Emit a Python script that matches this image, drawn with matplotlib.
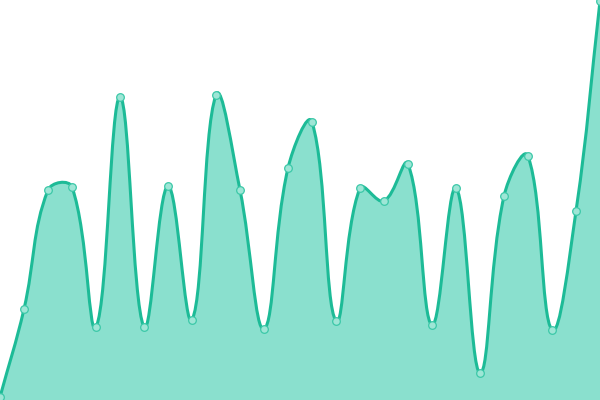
import matplotlib

matplotlib.use("Agg")
import matplotlib.pyplot as plt
from matplotlib.patches import PathPatch
from matplotlib.path import Path

LINE_COLOR = "#1dbb97"
FILL_COLOR = "#8ae0ce"
POINT_FILL = "#9ee6d6"
TENSION = 0.4

x_values = [0, 24, 48, 72, 96, 120, 144, 168, 192, 216, 240, 264, 288,
            312, 336, 360, 384, 408, 432, 456, 480, 504, 528, 552, 576, 600]
y_values = [3, 91, 210, 213, 73, 303, 73, 214, 80, 305, 210, 71, 232,
            278, 79, 212, 199, 236, 75, 212, 27, 204, 244, 70, 189, 399]

X_MIN, X_MAX = 0, 600
Y_MIN, Y_MAX = 0, 400


def control_points(xs, ys, tension):
    """Chart.js style spline control points, clamped to the chart area."""
    n = len(xs)
    cps = []
    for i in range(n):
        px, py = (xs[i - 1], ys[i - 1]) if i > 0 else (xs[i], ys[i])
        nx, ny = (xs[i + 1], ys[i + 1]) if i < n - 1 else (xs[i], ys[i])
        cx, cy = xs[i], ys[i]
        d01 = ((cx - px) ** 2 + (cy - py) ** 2) ** 0.5
        d12 = ((nx - cx) ** 2 + (ny - cy) ** 2) ** 0.5
        total = d01 + d12
        s01 = d01 / total if total else 0
        s12 = d12 / total if total else 0
        fa = tension * s01
        fb = tension * s12
        prev_cp = (cx - fa * (nx - px), cy - fa * (ny - py))
        next_cp = (cx + fb * (nx - px), cy + fb * (ny - py))
        clamp = lambda p: (min(max(p[0], X_MIN), X_MAX), min(max(p[1], Y_MIN), Y_MAX))
        cps.append((clamp(prev_cp), clamp(next_cp)))
    return cps


def spline_vertices(xs, ys, tension):
    cps = control_points(xs, ys, tension)
    verts = [(xs[0], ys[0])]
    codes = [Path.MOVETO]
    for i in range(1, len(xs)):
        verts += [cps[i - 1][1], cps[i][0], (xs[i], ys[i])]
        codes += [Path.CURVE4] * 3
    return verts, codes


fig = plt.figure(figsize=(6, 4), dpi=100)
ax = fig.add_axes([0, 0, 1, 1])
ax.set_xlim(X_MIN, X_MAX)
ax.set_ylim(Y_MIN, Y_MAX)
ax.axis("off")

verts, codes = spline_vertices(x_values, y_values, TENSION)

fill_verts = verts + [(x_values[-1], Y_MIN), (x_values[0], Y_MIN), verts[0]]
fill_codes = codes + [Path.LINETO, Path.LINETO, Path.CLOSEPOLY]
ax.add_patch(PathPatch(Path(fill_verts, fill_codes), facecolor=FILL_COLOR,
                       edgecolor="none"))
ax.add_patch(PathPatch(Path(verts, codes), facecolor="none",
                       edgecolor=LINE_COLOR, linewidth=2.2))

ax.plot(x_values, y_values, linestyle="none", marker="o", markersize=5.5,
        markerfacecolor=POINT_FILL, markeredgecolor="#3cc8a8",
        markeredgewidth=0.9, clip_on=False)

fig.savefig("out.png", dpi=100)
